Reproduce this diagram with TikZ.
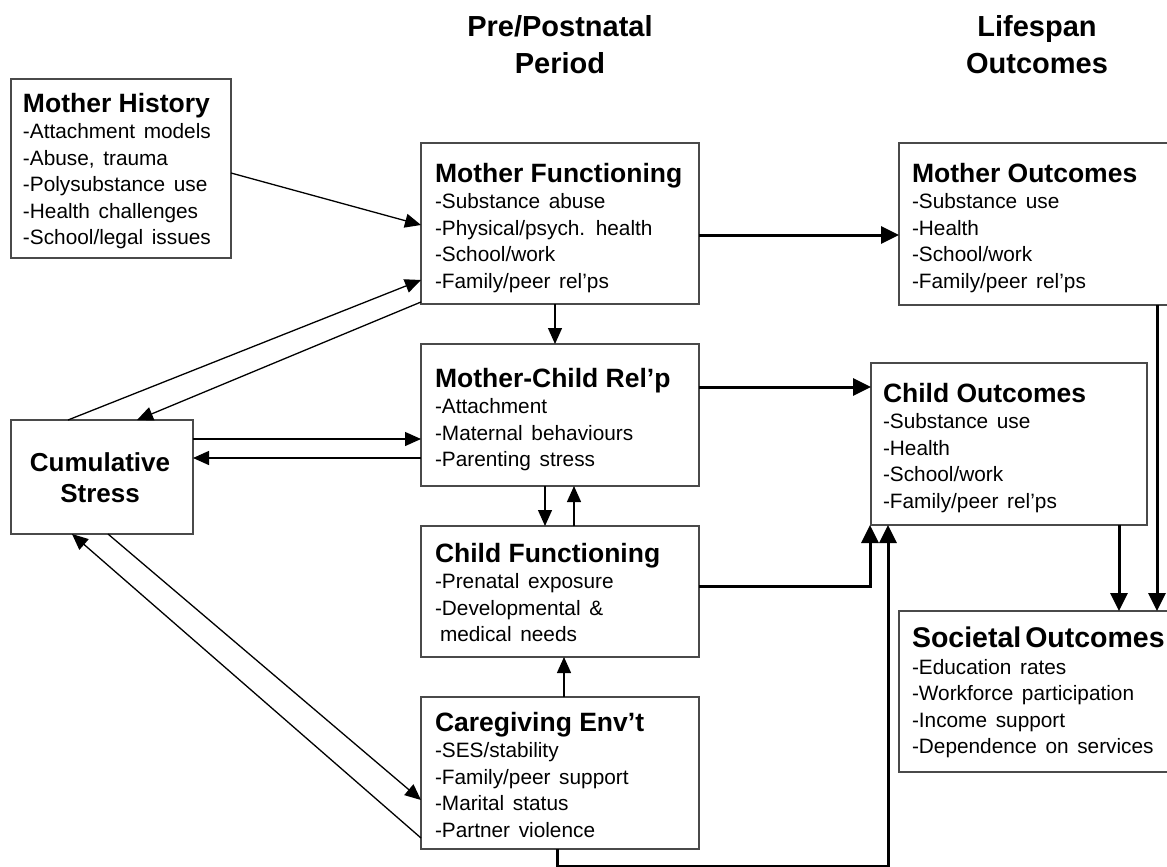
\documentclass[tikz,border=0pt]{standalone}
\usepackage{fontspec}
\setmainfont[WordSpace=1.5]{Liberation Sans}
\newfontfamily\ttlfont{Liberation Sans}
\usetikzlibrary{arrows.meta,calc}
\definecolor{boxgray}{HTML}{4A4A4A}
\newcommand{\bxttl}[1]{{\ttlfont\fontsize{26.5}{26.5}\selectfont\bfseries #1}}
\begin{document}
\begin{tikzpicture}[x=1pt,y=-1pt,
  box/.style={draw=boxgray, line width=1.5pt, inner sep=0pt, outer sep=0pt, anchor=north west},
  txt/.style={anchor=north west, inner sep=0pt, outer sep=0pt, align=left, font=\fontsize{20.8}{26.5}\selectfont},
  hdr/.style={anchor=north, inner sep=0pt, align=center, font=\ttlfont\fontsize{29}{37}\selectfont\bfseries},
  thinarr/.style={line width=1.3pt, -{Triangle[length=16pt,width=14pt]}},
  thickarr/.style={line width=3pt, -{Triangle[length=18pt,width=17pt]}}]
\useasboundingbox (0,0) rectangle (1167,867);

% column headers
\node[hdr] (h1) at (560,15) {Pre/Postnatal\\Period};
\node[hdr] (h2) at (1037,15) {Lifespan\\Outcomes};

% boxes
\node[box, minimum width=220pt, minimum height=179pt] (mh) at (11,79) {};
\node[box, minimum width=278pt, minimum height=161pt] (mf) at (421,143) {};
\node[box, minimum width=281pt, minimum height=162pt] (mo) at (899,143) {};
\node[box, minimum width=182pt, minimum height=114pt] (cs) at (11,420) {};
\node[box, minimum width=278pt, minimum height=142pt] (mcr) at (421,344) {};
\node[box, minimum width=276pt, minimum height=162pt] (co) at (871,363) {};
\node[box, minimum width=278pt, minimum height=131pt] (cf) at (421,526) {};
\node[box, minimum width=278pt, minimum height=152pt] (ce) at (421,697) {};
\node[box, minimum width=281pt, minimum height=161pt] (so) at (899,611) {};

% box texts
\node[txt] (mht) at (23,93) {\bxttl{Mother History}\\-Attachment models\\-Abuse, trauma\\-Polysubstance use\\-Health challenges\\-School/legal issues};
\node[txt] (mft) at (435,163) {\bxttl{Mother Functioning}\\-Substance abuse\\-Physical/psych. health\\-School/work\\-Family/peer rel’ps};
\node[txt] (mot) at (912,163) {\bxttl{Mother Outcomes}\\-Substance use\\-Health\\-School/work\\-Family/peer rel'ps};
\node[txt] (mcrt) at (435,368) {\bxttl{Mother-Child Rel’p}\\-Attachment\\-Maternal behaviours\\-Parenting stress};
\node[txt] (cot) at (883,383) {\bxttl{Child Outcomes}\\-Substance use\\-Health\\-School/work\\-Family/peer rel’ps};
\node[txt] (cft) at (435,543) {\bxttl{Child Functioning}\\-Prenatal exposure\\-Developmental \&\\\hspace*{5pt}medical needs};
\node[txt] (cet) at (435,712) {\bxttl{Caregiving Env’t}\\-SES/stability\\-Family/peer support\\-Marital status\\-Partner violence};
\node[txt] (sot) at (912,627) {{\ttlfont\fontsize{28.5}{26.5}\selectfont\bfseries Societal\hspace{4pt}Outcomes}\\-Education rates\\-Workforce participation\\-Income support\\-Dependence on services};
\node[anchor=north, inner sep=0pt, align=center, font=\ttlfont\fontsize{26}{31}\selectfont\bfseries] (cst) at (100,452) {Cumulative\\Stress};

% thin connectors
\draw[thinarr] (mh.east |- 0,173) -- (mf.west |- 0,225);
\draw[thinarr] (cs.north -| 68,0) -- (mf.west |- 0,280);
\draw[thinarr] (mf.west |- 0,302) -- (cs.north -| 137,0);
\draw[thinarr] (cs.east |- 0,439) -- (mcr.west |- 0,439);
\draw[thinarr] (mcr.west |- 0,458) -- (cs.east |- 0,458);
\draw[thinarr] (cs.south -| 108,0) -- (ce.west |- 0,800);
\draw[thinarr] (ce.west |- 0,838) -- (cs.south -| 72,0);
\draw[thinarr] (mf.south -| 555,0) -- (mcr.north -| 555,0);
\draw[thinarr] (mcr.south -| 545,0) -- (cf.north -| 545,0);
\draw[thinarr] (cf.north -| 574,0) -- (mcr.south -| 574,0);
\draw[thinarr] (ce.north -| 564,0) -- (cf.south -| 564,0);

% thick connectors
\coordinate (bend) at (557,866);
\draw[thickarr] (mf.east |- 0,235) -- (mo.west |- 0,235);
\draw[thickarr] (mcr.east |- 0,387) -- (co.west |- 0,387);
\draw[thickarr] (cf.east |- 0,586) -| (co.south -| 870,0);
\draw[thickarr] (ce.south -| bend) -- (bend) -| (co.south -| 888,0);
\draw[thickarr] (co.south -| 1119,0) -- (so.north -| 1119,0);
\draw[thickarr] (mo.south -| 1157,0) -- (so.north -| 1157,0);
\end{tikzpicture}
\end{document}
